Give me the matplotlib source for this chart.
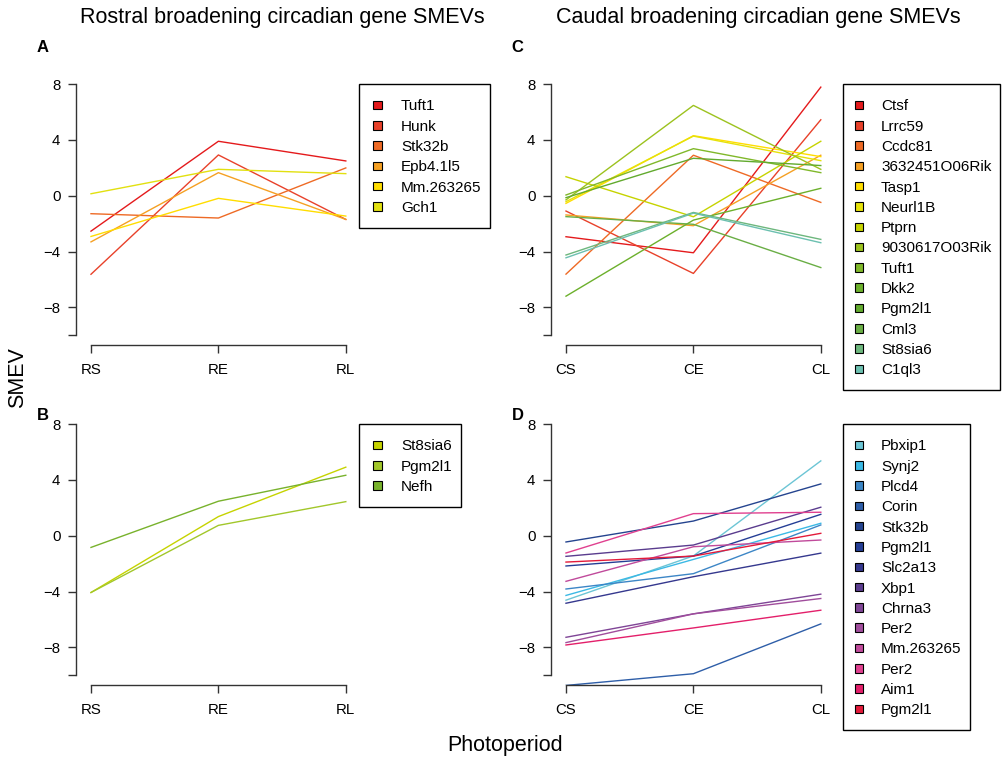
import numpy as np
import matplotlib
matplotlib.use("Agg")
from matplotlib import pyplot as plt
from matplotlib.patches import Rectangle

plt.rcParams['font.family'] = ['Liberation Sans', 'DejaVu Sans']

W, H = 1003, 758

# rostral panels
rostral_x = ["RS", "RE", "RL"]
genes_a = ["Tuft1", "Hunk", "Stk32b", "Epb4.1l5", "Mm.263265", "Gch1"]
smev_a = [[-2.54, 3.90, 2.49],
          [-5.63, 2.92, -1.70],
          [-1.29, -1.60, 1.99],
          [-3.31, 1.65, -1.70],
          [-2.92, -0.19, -1.46],
          [0.14, 1.89, 1.58]]
cols_a = ["#E41A1C", "#E8412A", "#EE6A25", "#F5A023", "#FFDD00", "#E2E010"]

genes_b = ["St8sia6", "Pgm2l1", "Nefh"]
smev_b = [[-4.07, 1.37, 4.91],
          [-4.07, 0.74, 2.44],
          [-0.84, 2.47, 4.33]]
cols_b = ["#C6D300", "#A2C72A", "#78B22C"]

# caudal panels
caudal_x = ["CS", "CE", "CL"]
genes_c = ["Ctsf", "Lrrc59", "Ccdc81", "3632451O06Rik", "Tasp1", "Neurl1B", "Ptprn",
           "9030617O03Rik", "Tuft1", "Dkk2", "Pgm2l1", "Cml3", "St8sia6", "C1ql3"]
smev_c = [[-2.94, -4.09, 7.78],
          [-1.10, -5.57, 5.44],
          [-5.62, 2.90, -0.48],
          [-1.38, -2.15, 2.90],
          [-0.55, 4.30, 2.80],
          [-0.43, 4.27, 2.51],
          [1.36, -1.51, 3.90],
          [-0.30, 6.47, 1.89],
          [0.05, 3.37, 1.65],
          [-7.20, -1.75, 0.53],
          [-0.14, 2.68, 2.16],
          [-1.50, -2.05, -5.15],
          [-4.25, -1.20, -3.13],
          [-4.45, -1.25, -3.37]]
cols_c = ["#E41A1C", "#E8412A", "#EE6A25", "#F5A023", "#FFDD00", "#E6E20A", "#C6D300",
          "#9CC21E", "#80B82A", "#6CB02C", "#62AA2E", "#6AAE45", "#6DB77D", "#6CC0B0"]

genes_d = ["Pbxip1", "Synj2", "Plcd4", "Corin", "Stk32b", "Pgm2l1", "Slc2a13", "Xbp1",
           "Chrna3", "Per2", "Mm.263265", "Per2", "Aim1", "Pgm2l1"]
smev_d = [[-4.62, -1.45, 5.36],
          [-4.28, -1.70, 0.89],
          [-3.82, -2.72, 0.77],
          [-10.73, -9.89, -6.32],
          [-0.45, 1.05, 3.71],
          [-2.17, -1.46, 1.53],
          [-4.84, -2.94, -1.25],
          [-1.48, -0.67, 2.04],
          [-7.28, -5.60, -4.19],
          [-7.66, -5.60, -4.50],
          [-3.27, -0.79, -0.31],
          [-1.24, 1.58, 1.68],
          [-7.83, -6.61, -5.34],
          [-1.89, -1.46, 0.17]]
cols_d = ["#6CC5D5", "#3BB9E5", "#3C86C6", "#2E5EA8", "#25448F", "#253E95", "#35388E",
          "#5A3C8E", "#7F4596", "#A04D9C", "#C04A9B", "#E0408F", "#E31F6A", "#E31A3A"]

yticks = [-10, -8, -4, 0, 4, 8]
ylabels = ["", "\u22128", "\u22124", "0", "4", "8"]

LEG_FS = 11
ROW = 20.3


def fx(px):
    return px / W


def fy(py):
    return 1 - py / H


def px_rect(left, top, right, bottom):
    return [left / W, 1 - bottom / H, (right - left) / W, (bottom - top) / H]


def gene_legend(x0, y0, labels, cols, sq_off, txt_off):
    # boxed key of coloured squares, laid out in pixels from the top-left corner
    sq = 8.5
    first = y0 + 21
    texts = []
    for i, (lab, c) in enumerate(zip(labels, cols)):
        yc = first + i * ROW
        fig.add_artist(Rectangle((fx(x0 + sq_off), fy(yc + sq / 2)), sq / W, sq / H,
                                 transform=fig.transFigure, facecolor=c,
                                 edgecolor="black", linewidth=0.8))
        texts.append(fig.text(fx(x0 + txt_off), fy(yc + 5.4), lab, fontsize=LEG_FS,
                              ha="left", va="baseline"))
    rend = fig.canvas.get_renderer()
    right = max(t.get_window_extent(rend).x1 for t in texts) + 8.5
    bottom = first + (len(labels) - 1) * ROW + 21
    fig.add_artist(Rectangle((fx(x0), fy(bottom)), (right - x0) / W, (bottom - y0) / H,
                             transform=fig.transFigure, facecolor="none",
                             edgecolor="black", linewidth=1.0))


def panel(rect, xlabels, vals, cols, letter, letter_xy):
    ax = fig.add_axes(px_rect(*rect))
    x = np.arange(1, len(xlabels) + 1)
    for v, c in zip(vals, cols):
        ax.plot(x, v, color=c, lw=1.0)
    ax.set_xlim(0.88, 3.08)
    ax.set_ylim(-10.72, 8.72)
    for s in ["top", "right"]:
        ax.spines[s].set_visible(False)
    ax.spines["left"].set_bounds(-10, 8)
    ax.spines["bottom"].set_bounds(1, 3)
    for s in ["left", "bottom"]:
        ax.spines[s].set_color("#333333")
        ax.spines[s].set_linewidth(1.0)
    ax.set_xticks(x, xlabels)
    ax.set_yticks(yticks, ylabels)
    ax.tick_params(direction="out", length=6, width=1.0, color="#333333",
                   labelsize=10.8, pad=5)
    ax.tick_params(axis="x", pad=7)
    ax.patch.set_visible(False)
    fig.text(fx(letter_xy[0]), fy(letter_xy[1]), letter, fontsize=12,
             fontweight="bold", ha="center", va="center")
    return ax


fig = plt.figure(figsize=(W / 100, H / 100), dpi=100)

panel((75.7, 74, 356, 345.3), rostral_x, smev_a, cols_a, "A", (42.5, 48))
panel((75.7, 414, 356, 685.3), rostral_x, smev_b, cols_b, "B", (42.5, 415))
panel((550.7, 74, 831, 345.3), caudal_x, smev_c, cols_c, "C", (517.5, 48))
panel((550.7, 414, 831, 685.3), caudal_x, smev_d, cols_d, "D", (517.5, 415))

gene_legend(359, 84, genes_a, cols_a, 14.5, 42)
gene_legend(359, 424, genes_b, cols_b, 14.5, 42)
gene_legend(843, 84, genes_c, cols_c, 12, 38)
gene_legend(843, 424, genes_d, cols_d, 12, 38)

fig.text(fx(282), fy(18), "Rostral broadening circadian gene SMEVs",
         fontsize=15.5, ha="center", va="center")
fig.text(fx(758), fy(18), "Caudal broadening circadian gene SMEVs",
         fontsize=15.5, ha="center", va="center")
fig.text(fx(18), fy(378), "SMEV", fontsize=15.5, rotation=90,
         ha="center", va="center")
fig.text(fx(505), fy(745), "Photoperiod", fontsize=15.5, ha="center", va="center")

fig.savefig("out.png", dpi=100)
